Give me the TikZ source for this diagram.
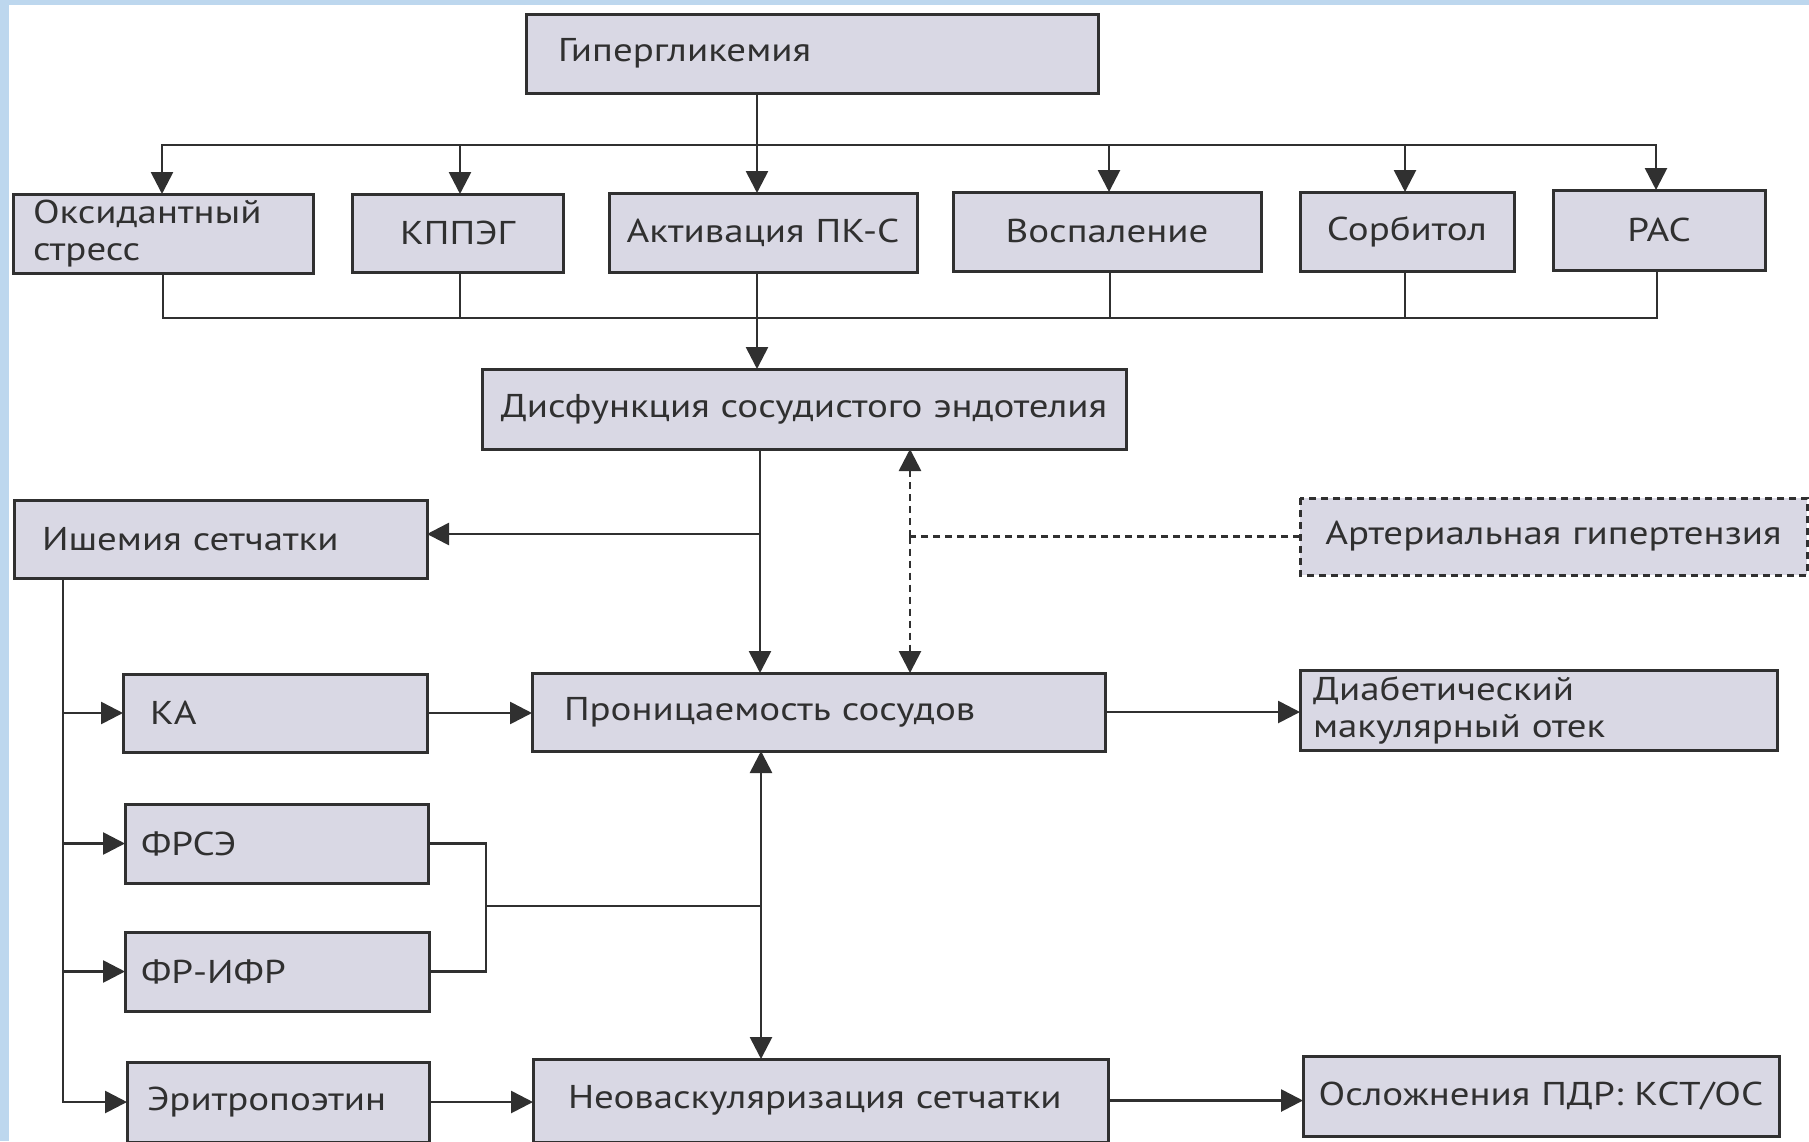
\documentclass[tikz,border=0pt]{standalone}
\usepackage{fontspec}
\setmainfont{PT Sans}[FakeStretch=1.18]
\usetikzlibrary{arrows.meta}
\definecolor{bgblue}{RGB}{189,215,238}
\definecolor{boxfill}{RGB}{217,216,228}
\definecolor{ink}{RGB}{48,48,48}
\begin{document}
\begin{tikzpicture}[x=0.5pt,y=-0.5pt,
  box/.style={draw=ink, fill=boxfill, line width=1.5pt, anchor=north west,
    inner ysep=0pt, outer sep=0pt, text=ink, align=left,
    font=\fontsize{16.5}{18.5}\selectfont},
  cbox/.style={box, align=center, inner xsep=0pt},
  conn/.style={draw=ink, line width=1.35pt},
  arr/.style={conn, -{Triangle[length=11pt,width=11pt]}},
  darr/.style={conn, {Triangle[length=11pt,width=11pt]}-{Triangle[length=11pt,width=11pt]}},
  dashline/.style={conn, dash pattern=on 3.5pt off 2.5pt},
  dasharr/.style={dashline, -{Triangle[length=11pt,width=11pt]}}
]
\useasboundingbox (0,0) rectangle (1809,1141);
\fill[bgblue] (0,0) rectangle (1809,1141);
\fill[white] (9,5) rectangle (1809,1141);

% boxes
\node[box, minimum height=39.5pt, text width=254pt, inner xsep=16pt] (hyp) at (526,14) {Гипергликемия};
\node[box, minimum height=39.5pt, text width=130pt, inner xsep=10pt] (oks) at (13,194) {Оксидантный\\стресс};
\node[cbox, minimum height=39pt, text width=105.5pt] (kpp) at (352,194) {КППЭГ};
\node[cbox, minimum height=39.5pt, text width=154pt] (akt) at (609,193) {Активация ПК-С};
\node[cbox, minimum height=39.5pt, text width=154pt] (vos) at (953,192) {Воспаление};
\node[cbox, minimum height=39.5pt, text width=107pt] (sor) at (1300,192) {Сорбитол};
\node[cbox, minimum height=40pt, text width=106pt] (ras) at (1553,190) {РАС};
\node[cbox, minimum height=40pt, text width=322pt] (dis) at (482,369) {Дисфункция сосудистого эндотелия};
\node[box, minimum height=39pt, text width=178.5pt, inner xsep=14pt] (ish) at (14,500) {Ишемия сетчатки};
\node[cbox, draw=none, minimum height=38.5pt, text width=253.5pt] (art) at (1300,498) {Артериальная гипертензия};
\draw[ink, line width=1.5pt, dash pattern=on 3.5pt off 2.5pt] (art.north west) rectangle (art.south east);
\node[box, minimum height=39pt, text width=125pt, inner xsep=13.5pt] (ka) at (123,674) {КА};
\node[box, minimum height=39.5pt, text width=135.5pt, inner xsep=8pt] (frs) at (125,804) {ФРСЭ};
\node[box, minimum height=39.5pt, text width=136pt, inner xsep=8pt] (fri) at (125,932) {ФР-ИФР};
\node[box, minimum height=40pt, text width=131pt, inner xsep=10pt] (eri) at (127,1062) {Эритропоэтин};
\node[box, minimum height=39pt, text width=254.5pt, inner xsep=16pt] (pro) at (532,673) {Проницаемость сосудов};
\node[box, minimum height=40pt, text width=225.5pt, inner xsep=6.5pt] (dia) at (1300,670) {Диабетический\\макулярный отек};
\node[box, minimum height=41.5pt, text width=252.5pt, inner xsep=17.5pt] (neo) at (533,1059) {Неоваскуляризация сетчатки};
\node[cbox, minimum height=40pt, text width=238pt] (osl) at (1303,1056) {Осложнения ПДР: КСТ/ОС};

% distribution from Гипергликемия
\coordinate (t1) at (162,145);
\coordinate (t2) at (460,145);
\coordinate (t3) at (757,145);
\coordinate (t4) at (1109,145);
\coordinate (t5) at (1405,145);
\coordinate (t6) at (1656,145);
\draw[arr] (hyp.south -| t3) -- (akt.north -| t3);
\draw[arr] (t3) -| (t1 |- oks.north);
\draw[arr] (t3) -| (t6 |- ras.north);
\draw[arr] (t2) -- (t2 |- kpp.north);
\draw[arr] (t4) -- (t4 |- vos.north);
\draw[arr] (t5) -- (t5 |- sor.north);

% collector into Дисфункция
\coordinate (b1) at (163,318);
\coordinate (b2) at (460,318);
\coordinate (b3) at (757,318);
\coordinate (b4) at (1110,318);
\coordinate (b5) at (1405,318);
\coordinate (b6) at (1657,318);
\draw[conn] (oks.south -| b1) |- (b3);
\draw[conn] (ras.south -| b6) |- (b3);
\draw[conn] (kpp.south -| b2) -- (b2);
\draw[conn] (vos.south -| b4) -- (b4);
\draw[conn] (sor.south -| b5) -- (b5);
\draw[arr] (akt.south -| b3) -- (dis.north -| b3);

% from Дисфункция
\coordinate (m1) at (760,534);
\draw[arr] (dis.south -| m1) -- (pro.north -| m1);
\draw[arr] (m1) -- (ish.east |- m1);

% arterial hypertension (dashed)
\coordinate (d1) at (910,0);
\draw[dashline] (art.west) -- (art.west -| d1);
\draw[dasharr] (art.west -| d1) -- (dis.south -| d1);
\draw[dasharr] (art.west -| d1) -- (pro.north -| d1);

% left trunk from Ишемия
\coordinate (lx) at (63,0);
\draw[arr] (ish.south -| lx) |- (eri.west);
\draw[arr] (lx |- ka.west) -- (ka.west);
\draw[arr] (lx |- frs.west) -- (frs.west);
\draw[arr] (lx |- fri.west) -- (fri.west);

% right-going arrows
\draw[arr] (ka.east) -- (pro.west |- ka.east);
\draw[arr] (pro.east) -- (dia.west |- pro.east);
\draw[arr] (eri.east) -- (neo.west |- eri.east);
\draw[arr] (neo.east) -- (osl.west |- neo.east);

% growth factors into vertical link
\coordinate (cx) at (486,906);
\coordinate (vx) at (761,906);
\draw[conn] (frs.east) -| (cx) |- (fri.east);
\draw[conn] (cx) -- (vx);
\draw[darr] (pro.south -| vx) -- (neo.north -| vx);
\end{tikzpicture}
\end{document}
